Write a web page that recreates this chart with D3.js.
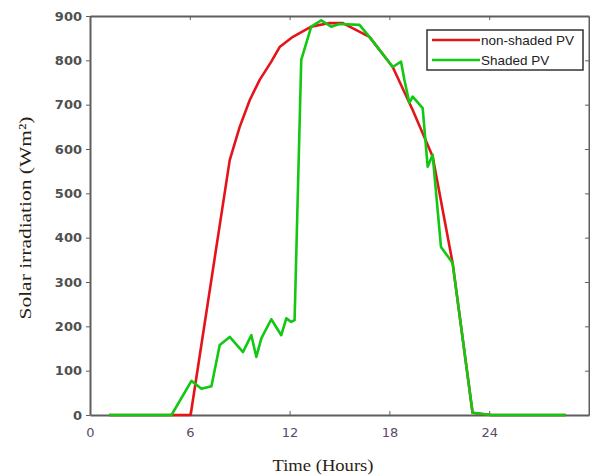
<!DOCTYPE html>
<html lang="en">
<head>
	<meta charset="UTF-8" />
	<script src="https://d3js.org/d3.v7.min.js"></script>
	<style type="text/css">
		body { margin: 0; background: #fff; }
		.axis path, .axis line { stroke: #5e5e5e; }
		.axis path { stroke-width: 2; }
		.axis text { font-family: "DejaVu Sans", sans-serif; font-size: 13px; fill: #4a4a4a; }
		.yaxis text { font-weight: bold; fill: #505050; }
		.xaxis text { fill: #5a4a6a; }
	</style>
	<title>Solar irradiation</title>
</head>
<body>
<script type="text/javascript">
	// Data (hours, W/m2)
	var redHours   = [1.15, 4.9, 6.05, 8.4, 9.0, 9.6, 10.2, 10.9, 11.4, 12.2, 13.3, 14.4, 15.2, 16.8, 18.2, 19.4, 20.6, 21.8, 23.0, 24.1, 28.6];
	var redValues  = [0, 0, 0, 575, 650, 710, 756, 797, 830, 853, 876, 884, 884, 853, 785, 688, 583, 343, 5, 0, 0];

	var greenHours  = [1.15, 4.9, 6.1, 6.7, 7.3, 7.8, 8.4, 9.2, 9.7, 10.0, 10.3, 10.9, 11.5, 11.8, 12.1, 12.3, 12.7, 13.3, 13.9, 14.5, 15.0, 16.2, 16.8, 18.2, 18.7, 18.9, 19.2, 19.4, 20.0, 20.3, 20.6, 21.1, 21.8, 23.0, 24.1, 28.6];
	var greenValues = [0, 0, 77, 59, 65, 158, 176, 142, 180, 131, 173, 216, 180, 218, 210, 214, 801, 876, 890, 876, 882, 880, 853, 785, 797, 756, 704, 718, 692, 560, 587, 379, 343, 5, 0, 0];

	var xTicks = [0, 6, 12, 18, 24];
	var yTicks = [0, 100, 200, 300, 400, 500, 600, 700, 800, 900];
	var seriesNames = ["non-shaded PV", "Shaded PV"];
	var seriesColors = ["#e5141a", "#12c812"];

	var W = 590, H = 476;
	var plotL = 90, plotR = 589, plotT = 16, plotB = 415;

	var xScale = d3.scaleLinear().domain([0, 30]).range([plotL, plotR]);
	var yScale = d3.scaleLinear().domain([0, 900]).range([plotB, plotT]);

	var svg = d3.select("body").append("svg")
		.attr("width", W)
		.attr("height", H);

	// box with ticks
	svg.append("g")
		.attr("class", "axis xaxis")
		.attr("transform", "translate(0," + plotB + ")")
		.call(d3.axisBottom(xScale).tickValues(xTicks).tickSize(-4).tickSizeOuter(0).tickPadding(13));

	svg.append("g")
		.attr("class", "axis")
		.attr("transform", "translate(0," + plotT + ")")
		.call(d3.axisTop(xScale).tickValues(xTicks).tickSize(-4).tickSizeOuter(0).tickFormat(""));

	svg.append("g")
		.attr("class", "axis yaxis")
		.attr("transform", "translate(" + plotL + ",0)")
		.call(d3.axisLeft(yScale).tickValues(yTicks).tickSize(4).tickSizeOuter(0).tickPadding(4));

	svg.append("g")
		.attr("class", "axis")
		.attr("transform", "translate(" + plotR + ",0)")
		.call(d3.axisRight(yScale).tickValues(yTicks).tickSize(-4).tickSizeOuter(0).tickFormat(""));

	// lines
	var line = d3.line()
		.x(function(d) { return xScale(d[0]); })
		.y(function(d) { return yScale(d[1]); });

	var redData = redHours.map(function(h, i) { return [h, redValues[i]]; });
	var greenData = greenHours.map(function(h, i) { return [h, greenValues[i]]; });

	[redData, greenData].forEach(function(data, i) {
		svg.append("path")
			.datum(data)
			.attr("fill", "none")
			.attr("stroke", seriesColors[i])
			.attr("stroke-width", 2.6)
			.attr("stroke-linejoin", "round")
			.attr("d", line);
	});

	// legend
	var legend = svg.append("g");
	legend.append("rect")
		.attr("x", 427).attr("y", 30)
		.attr("width", 156).attr("height", 40)
		.attr("fill", "#fff")
		.attr("stroke", "#333")
		.attr("stroke-width", 1.5);

	seriesNames.forEach(function(name, i) {
		var yy = 40 + i * 20;
		legend.append("line")
			.attr("x1", 432).attr("x2", 480)
			.attr("y1", yy).attr("y2", yy)
			.attr("stroke", seriesColors[i])
			.attr("stroke-width", 2.6);
		legend.append("text")
			.attr("x", 481).attr("y", yy + 5)
			.attr("font-family", "Liberation Sans, Arial, sans-serif")
			.attr("font-size", "13.5px")
			.attr("fill", "#222")
			.text(name);
	});

	// axis titles
	svg.append("text")
		.attr("transform", "translate(31,218) rotate(-90)")
		.attr("text-anchor", "middle")
		.attr("font-family", "Liberation Serif, Times New Roman, serif")
		.attr("font-size", "17px")
		.attr("fill", "#2a1e12")
		.attr("textLength", 203)
		.attr("lengthAdjust", "spacingAndGlyphs")
		.text("Solar irradiation  (Wm²)");

	svg.append("text")
		.attr("x", 323)
		.attr("y", 471)
		.attr("text-anchor", "middle")
		.attr("font-family", "Liberation Serif, Times New Roman, serif")
		.attr("font-size", "17px")
		.attr("fill", "#2a1e12")
		.attr("textLength", 101)
		.attr("lengthAdjust", "spacingAndGlyphs")
		.text("Time (Hours)");
</script>
</body>
</html>
